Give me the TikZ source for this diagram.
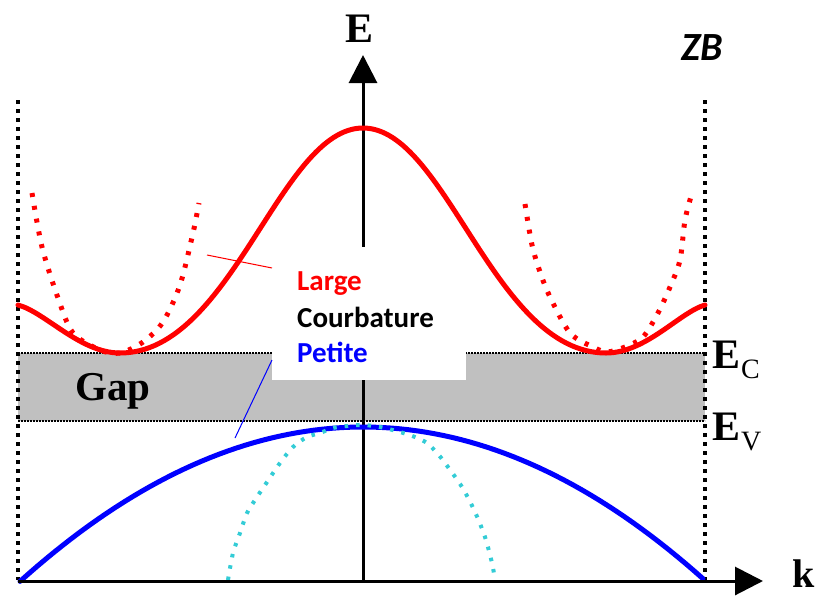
\documentclass[tikz,border=0pt]{standalone}
\usepackage{fontspec}
\setmainfont{Liberation Serif}
\newfontfamily\carl{Carlito}
\usetikzlibrary{arrows.meta}
\definecolor{gapgray}{RGB}{192,192,192}
\definecolor{cyandot}{RGB}{51,204,214}
\begin{document}
\begin{tikzpicture}[x=1pt,y=-1pt,
  redline/.style={color=red, line width=5pt, line join=round, line cap=round},
  reddots/.style={color=red, line width=5pt, dash pattern=on 4pt off 9pt},
  blueline/.style={color=blue, line width=5pt, line cap=round},
  cyandots/.style={color=cyandot, line width=4pt, dash pattern=on 3.5pt off 8pt},
  zbline/.style={black, line width=4pt, dash pattern=on 4pt off 5pt},
  gapborder/.style={black, line width=1.3pt, dash pattern=on 2pt off 1pt},
  axis/.style={black, line width=3pt, -{Triangle[length=28pt,width=28pt]}},
  leader/.style={line width=1pt},
  serifbig/.style={font=\fontsize{42}{44}\selectfont\bfseries, inner sep=0pt},
  lbl/.style={font=\carl\fontsize{29}{32}\selectfont\bfseries, anchor=base west, inner sep=0pt}]
\useasboundingbox (0,0) rectangle (819,598);
% gap band
\fill[gapgray] (18,353) rectangle (705,421);
\draw[gapborder] (18,353) -- (705,353);
\draw[gapborder] (18,421) -- (705,421);
% E axis
\coordinate (Ebot) at (363,580);
\coordinate (Etop) at (363,55);
\draw[axis] (Ebot) -- (Etop);
% white label box
\fill[white] (272,247) rectangle (466,380);
% zone boundaries
\coordinate (zbl1) at (18,100);
\coordinate (zbl2) at (18,580);
\coordinate (zbr1) at (705,100);
\coordinate (zbr2) at (705,580);
\draw[zbline] (zbl1) -- (zbl2);
\draw[zbline] (zbr1) -- (zbr2);
% valence bands
\draw[blueline] plot[domain=20:703, samples=80] (\x, {427+0.001317*(\x-363)*(\x-363)});
\draw[cyandots] plot[smooth] coordinates {(228,580) (233,553) (240,533) (247,513) (255,500) (263,488) (280,463) (293,447) (307,437) (320,433) (333,428) (347,426) (363,425) (380,427) (400,432) (415,437) (427,443) (437,453) (445,463) (462,487) (475,512) (485,537) (492,563) (495,580)};
% conduction bands
\draw[redline] (18,305) .. controls (45,312) and (80,353) .. (120,353)
  .. controls (232,353) and (280,128) .. (363,128)
  .. controls (446,128) and (494,353) .. (606,353)
  .. controls (646,353) and (680,312) .. (705,305);
\draw[reddots] plot[smooth] coordinates {(32,193) (42,247) (58,298) (73,333) (100,350) (120,353) (143,342) (163,322) (180,285) (193,233) (199,203)};
\draw[reddots] plot[smooth] coordinates {(525,204) (532,245) (540,272) (550,297) (570,333) (593,347) (607,352) (625,347) (643,337) (658,313) (670,287) (680,260) (685,220) (692,193)};
% k axis
\coordinate (kleft) at (18,581);
\coordinate (kright) at (763,581);
\draw[axis] (kleft) -- (kright);
% leader lines
\coordinate (rl1) at (207,255);
\coordinate (rl2) at (272,268);
\draw[leader, red] (rl1) -- (rl2);
\coordinate (bl1) at (235,438);
\coordinate (bl2) at (272,360);
\draw[leader, blue] (bl1) -- (bl2);
% labels
\node[serifbig, anchor=base] (Elab) at (360,42) {E};
\node[serifbig, font=\fontsize{40}{42}\selectfont\bfseries, anchor=base] (klab) at (804,587) {k};
\node[font=\carl\fontsize{40}{42}\selectfont\bfseries\itshape, anchor=base, inner sep=0pt] (zb) at (702,60) {ZB};
\node[font=\fontsize{41}{45}\selectfont\bfseries, anchor=base west, inner sep=0pt] (gap) at (75,400) {Gap};
\node[serifbig, anchor=base west] (ec) at (712,368) {E\kern1pt\raisebox{-10pt}{\fontsize{28}{30}\selectfont\mdseries C}};
\node[serifbig, anchor=base west] (ev) at (712,440) {E\kern1pt\raisebox{-10pt}{\fontsize{28}{30}\selectfont\mdseries V}};
\node[lbl, red] (large) at (297,290) {Large};
\node[lbl, black] (courb) at (297,327) {Courbature};
\node[lbl, blue] (petite) at (297,362) {Petite};
\end{tikzpicture}
\end{document}
